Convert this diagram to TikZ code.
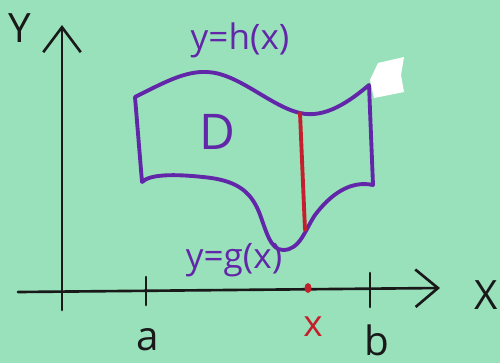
\documentclass[tikz,border=0pt]{standalone}
\usepackage{fontspec}
\setmainfont{Open Sans}
\usetikzlibrary{arrows.meta}
\definecolor{PaperGreen}{RGB}{153,225,187}
\definecolor{MarkerPurple}{RGB}{98,38,168}
\definecolor{MarkerRed}{RGB}{196,32,44}
\definecolor{MarkerBlack}{RGB}{25,25,25}
\tikzset{
  axis/.style={MarkerBlack, line width=1.5pt, line cap=round},
  tick/.style={MarkerBlack, line width=1.5pt, line cap=round},
  boundary/.style={MarkerPurple, line width=2.2pt, line cap=round, line join=round},
  slice/.style={MarkerRed, line width=2.2pt, line cap=round},
  axlab/.style={text=MarkerBlack, font=\fontsize{23}{25}\selectfont, inner sep=0pt},
  curvelab/.style={text=MarkerPurple, font=\fontsize{20}{22}\selectfont, inner sep=0pt},
}
\begin{document}
\begin{tikzpicture}[x=0.02cm, y=-0.02cm]
  \fill[PaperGreen] (0,0) rectangle (500,363);
  \useasboundingbox (0,0) rectangle (500,363);
  % axes
  \coordinate (xstart) at (18,292);
  \coordinate (xend) at (440,288);
  \coordinate (ystart) at (62,310);
  \coordinate (yend) at (62,25);
  \draw[axis, -{Straight Barb[length=0.45cm, width=0.75cm, line width=1.5pt]}] (xstart) -- (xend);
  \draw[axis, -{Straight Barb[length=0.5cm, width=0.75cm, line width=1.5pt]}] (ystart) -- (yend);
  \node[axlab] (ylab) at (20,28) {Y};
  \node[axlab] (xlab) at (486,295) {X};
  % ticks at a and b
  \draw[tick] (146,277) -- (146,305);
  \draw[tick] (370,273) -- (370,307);
  \node[axlab] (alab) at (148,340) {a};
  \node[axlab] (blab) at (377,340) {b};
  % region D
  \draw[boundary] (142,182) -- (135,97)
    .. controls (165,82) and (185,71) .. (207,72)
    .. controls (238,73) and (270,106) .. (300,113)
    .. controls (325,119) and (350,101) .. (369,85)
    -- (373,185)
    .. controls (350,180) and (330,195) .. (315,215)
    .. controls (305,230) and (300,250) .. (283,250)
    .. controls (270,250) and (266,230) .. (259,212)
    .. controls (250,190) and (235,180) .. (203,177)
    .. controls (175,174) and (150,174) .. (142,182);
  \fill[white] (370,80) -- (378,63) -- (404,57) -- (401,75) -- (404,92) -- (374,98) -- cycle;
  \node[text=MarkerPurple, font=\fontsize{28}{30}\selectfont, inner sep=0pt] (dlab) at (217,132) {D};
  \node[curvelab] (hlab) at (240,40) {y=h(x)};
  \node[curvelab] (glab) at (234,260) {y=g(x)};
  % slice at x
  \coordinate (xtop) at (300,113);
  \coordinate (xbot) at (305,230);
  \draw[slice] (xtop) -- (xbot);
  \fill[MarkerRed] (308,288) ellipse (3.5 and 5);
  \node[text=MarkerRed, font=\fontsize{21}{23}\selectfont, inner sep=0pt] (xval) at (313,327) {x};
\end{tikzpicture}
\end{document}
